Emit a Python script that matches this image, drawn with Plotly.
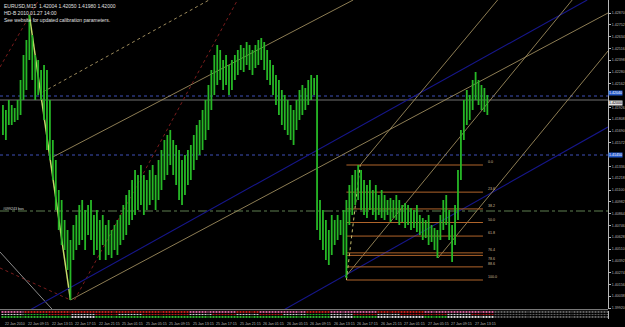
import plotly.graph_objects as go

# ---------------- data ----------------
bar_high = [1.4195, 1.4190, 1.4200, 1.4195, 1.4192, 1.4200, 1.4220, 1.4245, 1.4260, 1.4285,
            1.4265, 1.4245, 1.4240, 1.4230, 1.4235, 1.4230, 1.4200, 1.4160, 1.4140, 1.4110,
            1.4100, 1.4080, 1.4070, 1.4060, 1.4075, 1.4085, 1.4095, 1.4100, 1.4090, 1.4095,
            1.4100, 1.4085, 1.4090, 1.4080, 1.4085, 1.4075, 1.4080, 1.4070, 1.4075, 1.4080,
            1.4085, 1.4095, 1.4105, 1.4110, 1.4120, 1.4130, 1.4125, 1.4135, 1.4125, 1.4120,
            1.4130, 1.4135, 1.4125, 1.4140, 1.4150, 1.4160, 1.4165, 1.4170, 1.4160, 1.4155,
            1.4150, 1.4140, 1.4145, 1.4150, 1.4155, 1.4165, 1.4175, 1.4180, 1.4190, 1.4200,
            1.4215, 1.4230, 1.4245, 1.4255, 1.4250, 1.4240, 1.4245, 1.4235, 1.4240, 1.4245,
            1.4250, 1.4255, 1.4252, 1.4258, 1.4255, 1.4250, 1.4255, 1.4260, 1.4262, 1.4258,
            1.4250, 1.4240, 1.4235, 1.4225, 1.4220, 1.4210, 1.4205, 1.4200, 1.4195, 1.4190,
            1.4200, 1.4210, 1.4215, 1.4212, 1.4220, 1.4225, 1.4222, 1.4225, 1.4100, 1.4090,
            1.4080, 1.4070, 1.4085, 1.4080, 1.4085, 1.4080, 1.4090, 1.4100, 1.4115, 1.4125,
            1.4130, 1.4135, 1.4130, 1.4120, 1.4115, 1.4120, 1.4110, 1.4115, 1.4105, 1.4110,
            1.4105, 1.4100, 1.4102, 1.4100, 1.4105, 1.4100, 1.4095, 1.4097, 1.4095, 1.4092,
            1.4090, 1.4095, 1.4085, 1.4082, 1.4080, 1.4085, 1.4075, 1.4072, 1.4070, 1.4085,
            1.4100, 1.4105, 1.4090, 1.4075, 1.4095, 1.4130, 1.4170, 1.4200, 1.4210, 1.4205,
            1.4220, 1.4228, 1.4220, 1.4215, 1.4212, 1.4205]
bar_low = [1.4165, 1.4160, 1.4175, 1.4175, 1.4178, 1.4180, 1.4185, 1.4200, 1.4210, 1.4240,
           1.4220, 1.4200, 1.4205, 1.4200, 1.4180, 1.4150, 1.4140, 1.4120, 1.4090, 1.4070,
           1.4055, 1.4050, 1.4030, 1.4000, 1.4040, 1.4050, 1.4055, 1.4060, 1.4050, 1.4065,
           1.4060, 1.4045, 1.4050, 1.4040, 1.4055, 1.4040, 1.4045, 1.4042, 1.4050, 1.4045,
           1.4055, 1.4060, 1.4065, 1.4075, 1.4080, 1.4085, 1.4090, 1.4095, 1.4085, 1.4090,
           1.4095, 1.4100, 1.4090, 1.4100, 1.4110, 1.4120, 1.4125, 1.4135, 1.4125, 1.4115,
           1.4100, 1.4095, 1.4105, 1.4115, 1.4120, 1.4130, 1.4140, 1.4145, 1.4150, 1.4160,
           1.4170, 1.4190, 1.4205, 1.4215, 1.4220, 1.4210, 1.4215, 1.4205, 1.4210, 1.4220,
           1.4225, 1.4230, 1.4228, 1.4235, 1.4230, 1.4225, 1.4232, 1.4235, 1.4240, 1.4230,
           1.4220, 1.4215, 1.4205, 1.4195, 1.4185, 1.4175, 1.4170, 1.4165, 1.4160, 1.4155,
           1.4170, 1.4180, 1.4185, 1.4190, 1.4195, 1.4200, 1.4205, 1.4070, 1.4060, 1.4050,
           1.4040, 1.4035, 1.4045, 1.4055, 1.4060, 1.4065, 1.4045, 1.4022, 1.4075, 1.4085,
           1.4095, 1.4100, 1.4090, 1.4085, 1.4082, 1.4090, 1.4085, 1.4080, 1.4085, 1.4082,
           1.4080, 1.4085, 1.4078, 1.4082, 1.4080, 1.4075, 1.4078, 1.4072, 1.4075, 1.4070,
           1.4072, 1.4068, 1.4065, 1.4060, 1.4062, 1.4055, 1.4058, 1.4050, 1.4042, 1.4060,
           1.4070, 1.4075, 1.4060, 1.4038, 1.4055, 1.4080, 1.4120, 1.4160, 1.4175, 1.4180,
           1.4190, 1.4200, 1.4195, 1.4190, 1.4188, 1.4185]

time_label_bars = [0, 8, 16, 24, 32, 40, 48, 56, 64, 72, 80, 88, 96, 104, 112, 120, 128, 136, 144, 152, 160]
time_labels = ["22 Jan 2010", "22 Jan 09:15", "22 Jan 13:15", "22 Jan 17:15", "22 Jan 21:15",
               "25 Jan 01:15", "25 Jan 05:15", "25 Jan 09:15", "25 Jan 13:15", "25 Jan 17:15",
               "25 Jan 21:15", "26 Jan 01:15", "26 Jan 05:15", "26 Jan 09:15", "26 Jan 13:15",
               "26 Jan 17:15", "26 Jan 21:15", "27 Jan 01:15", "27 Jan 05:15", "27 Jan 09:15",
               "27 Jan 13:15"]

# price scale labels (the two hidden under the blue price boxes are left out)
price_ticks = [1.42870, 1.42752, 1.42634, 1.42516, 1.42398, 1.42280, 1.42162, 1.41926,
               1.41808, 1.41690, 1.41572, 1.41336, 1.41218, 1.41100, 1.40982, 1.40864,
               1.40746, 1.40628, 1.40510, 1.40392, 1.40274, 1.40156, 1.40038, 1.39920]
price_tick_text = ["%.5f" % p for p in price_ticks]

# trend lines (bar index, price)
tl_x0 = [9, 13.6, 17, 23, -1, -1, 24.4, -1, 9.2, 95.6, 116.6, 148.2, 121.7]
tl_p0 = [1.4285, 1.4208, 1.4143, 1.4000, 1.4233, 1.4032, 1.4000, 1.4048, 1.3990, 1.3990, 1.4023, 1.4042, 1.4135]
tl_x1 = [23, 70.2, 119.3, 206.1, 12.2, 23, 79.9, 17, 199, 206.1, 193.9, 206.1, 168.5]
tl_p1 = [1.4000, 1.4300, 1.4300, 1.4287, 1.4300, 1.4000, 1.4300, 1.3990, 1.4300, 1.4173, 1.4300, 1.4249, 1.4300]
tl_kind = ["zig", "tan_dot", "tan", "tan", "red", "red", "red", "gray", "blue", "blue", "tan", "tan", "tan"]

# horizontal levels
level_prices = [1.4204, 1.4200, 1.4145, 1.4089]
level_kind = ["blue", "bid", "blue", "hline"]
hline_name = "#099243 bos"

# fibonacci retracement
fib_bar0, fib_bar1 = 117, 163.5
fib_high, fib_low = 1.4135, 1.4020
fib_ratios = [0.0, 0.236, 0.382, 0.5, 0.618, 0.764, 0.786, 0.886, 1.0]
fib_names = ["0.0", "23.6", "38.2", "50.0", "61.8", "76.4", "78.6", "88.6", "100.0"]

# signal strip (one char per 8 bars)
sig_rows = ["PRRRRRRRPPRPPRPPRRPPPEEEEE",
            "WGRWRWRRWRWRWGWRWRRWREEEEE",
            "GGGWGGGGGGGGGGWGWWGWWEEEEE"]

header_lines = ["EURUSD,M15  1.42004 1.42050 1.41980 1.42000",
                "HD-B 2010.01.27 14:00",
                "See website for updated calibration parameters."]

# ---------------- styles ----------------
BG = "#000000"
AX = "#b8b8b8"
FONT = "Liberation Sans Narrow, Liberation Sans, Arial, sans-serif"
styles = {
    "zig": dict(color="#c8dc6a", width=1.5),
    "tan": dict(color="#9c8a5c", width=0.9),
    "tan_dot": dict(color="#9c8a5c", width=1, dash="dot"),
    "red": dict(color="#7a1c1c", width=1, dash="dot"),
    "gray": dict(color="#8a8a8a", width=1),
    "blue": dict(color="#16168a", width=1.1),
}

fig = go.Figure()

XMIN, XMAX = -1, 206.1
for p, k in zip(level_prices, level_kind):
    if k == "blue":
        st = dict(color="#3e50b8", width=1, dash="dot")
    elif k == "bid":
        st = dict(color="#707070", width=1)
    else:
        st = dict(color="#5e7e50", width=1, dash="dashdot")
    fig.add_trace(go.Scatter(x=[XMIN, XMAX], y=[p, p], mode="lines", line=st,
                             hoverinfo="skip", showlegend=False))

for x0, p0, x1, p1, k in zip(tl_x0, tl_p0, tl_x1, tl_p1, tl_kind):
    fig.add_trace(go.Scatter(x=[x0, x1], y=[p0, p1], mode="lines", line=styles[k],
                             hoverinfo="skip", showlegend=False))

fib_prices = [fib_high - r * (fib_high - fib_low) for r in fib_ratios]
for p in fib_prices:
    fig.add_trace(go.Scatter(x=[fib_bar0, fib_bar1], y=[p, p], mode="lines",
                             line=dict(color="#b0642a", width=1), hoverinfo="skip", showlegend=False))
fig.add_trace(go.Scatter(x=[fib_bar0, 121.7], y=[fib_low, fib_high], mode="lines",
                         line=dict(color="#c8c070", width=1, dash="dot"), hoverinfo="skip", showlegend=False))

# bars
xs, ys = [], []
for i, (h, l) in enumerate(zip(bar_high, bar_low)):
    xs += [i, i, None]
    ys += [l, h, None]
fig.add_trace(go.Scatter(x=xs, y=ys, mode="lines", line=dict(color="#26b826", width=1.8),
                         hoverinfo="skip", showlegend=False))

# signal strip heatmap
code = {"R": 0, "P": 1, "W": 2, "G": 3, "E": 4}
z = []
for row in reversed(sig_rows):
    z.append([code[c] for c in row for _ in range(8)])
cols = ["#c81e1e", "#d8609a", "#dcdcdc", "#2eb82e", "#646464"]
cs = []
for k, c in enumerate(cols):
    cs.append([k / 5, c])
    cs.append([(k + 1) / 5, c])
fig.add_trace(go.Heatmap(z=z, x=list(range(len(z[0]))), y=[0, 1, 2], zmin=-0.5, zmax=4.5,
                         colorscale=cs, showscale=False, xgap=1, ygap=1, hoverinfo="skip",
                         xaxis="x", yaxis="y2"))

MAIN_LO = 10 / 319
annotations = []
for i, t in enumerate(header_lines):
    annotations.append(dict(x=0.003, y=1, xref="paper", yref="paper", xanchor="left", yanchor="top",
                            yshift=-1 - 7 * i, text=t, showarrow=False,
                            font=dict(size=5, color="#e0e0e0", family=FONT)))
for b, t in zip(time_label_bars, time_labels):
    annotations.append(dict(x=b, y=0, xref="x", yref="paper", xanchor="left", yanchor="top",
                            yshift=-1, text=t, showarrow=False,
                            font=dict(size=3.6, color=AX, family=FONT)))
for j, (p, n) in enumerate(zip(fib_prices, fib_names)):
    anchor = "top" if n == "78.6" else "bottom"
    shift = 0 if n == "78.6" else -1
    annotations.append(dict(x=fib_bar1 + 1, y=p, xref="x", yref="y", xanchor="left", yanchor=anchor,
                            yshift=shift, text=n, showarrow=False,
                            font=dict(size=3.6, color="#d0b898", family=FONT)))
annotations.append(dict(x=XMIN + 0.5, y=level_prices[3], xref="x", yref="y", xanchor="left",
                        yanchor="bottom", yshift=-2, text=hline_name, showarrow=False,
                        font=dict(size=3.6, color="#d8d8d8", family=FONT)))
for p, bg, fc, anc in [(level_prices[0], "#2458c8", "#ffffff", "bottom"),
                       (level_prices[1], "#e0e0e0", "#000000", "top"),
                       (level_prices[2], "#2458c8", "#ffffff", "middle")]:
    annotations.append(dict(x=1, y=p, xref="paper", yref="y", xanchor="left", yanchor=anc,
                            text="%.5f" % p, showarrow=False, bgcolor=bg, borderpad=0,
                            font=dict(size=3.6, color=fc, family=FONT)))

shapes = [
    dict(type="line", xref="paper", yref="paper", x0=0, x1=1, y0=MAIN_LO - 0.002, y1=MAIN_LO - 0.002,
         line=dict(color="#8a8a8a", width=1)),
]

fig.update_layout(
    width=625, height=327,
    margin=dict(l=0, r=14, t=0, b=8),
    paper_bgcolor=BG, plot_bgcolor=BG,
    showlegend=False,
    xaxis=dict(range=[XMIN, XMAX], domain=[0, 1], anchor="y2", showgrid=False, zeroline=False,
               showticklabels=False, ticks="", showline=False),
    yaxis=dict(domain=[MAIN_LO, 1], range=[1.3991, 1.4300], side="right", tickvals=price_ticks,
               ticktext=price_tick_text, tickfont=dict(size=3.6, color=AX, family=FONT),
               ticks="outside", ticklen=2, tickcolor=AX, showline=True, linecolor=AX, linewidth=1,
               showgrid=False, zeroline=False),
    yaxis2=dict(domain=[0, MAIN_LO - 0.006], range=[-0.5, 2.5], side="right", showgrid=False,
                zeroline=False, showticklabels=False, showline=True, linecolor=AX, linewidth=1),
    annotations=annotations,
    shapes=shapes,
)

fig.write_html("out.html")
